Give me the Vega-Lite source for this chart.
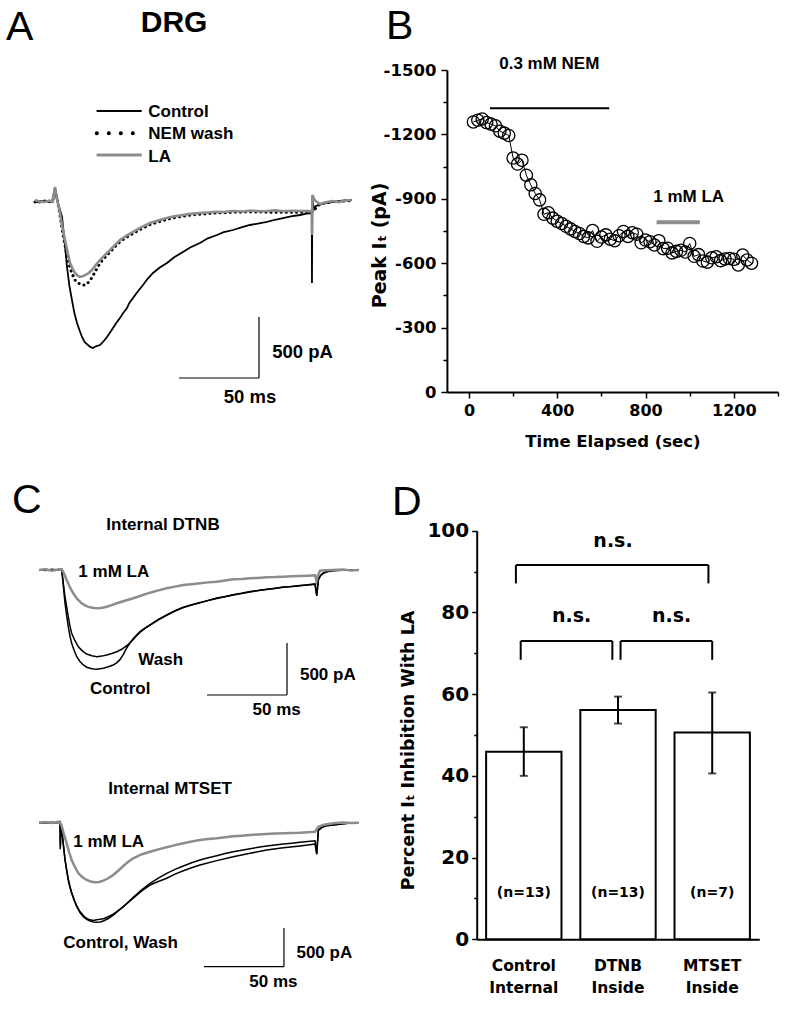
{
  "$schema": "https://vega.github.io/schema/vega-lite/v6.json",
  "width": 786,
  "height": 1016,
  "padding": 0,
  "autosize": {"type": "none"},
  "background": "white",
  "config": {
    "font": "Liberation Sans",
    "view": {"stroke": null},
    "axis": {"grid": false, "domainColor": "black", "tickColor": "black", "labelColor": "black", "titleColor": "black", "labelOverlap": false}
  },
  "datasets": {
    "trA": [
      {"s":"Control","t":0,"I":0},{"s":"Control","t":3,"I":-8},{"s":"Control","t":6,"I":10},{"s":"Control","t":9,"I":-5},{"s":"Control","t":11,"I":4},{"s":"Control","t":12.5,"I":120},{"s":"Control","t":13.5,"I":30},{"s":"Control","t":15,"I":-40},{"s":"Control","t":16.9,"I":-125},{"s":"Control","t":18.5,"I":-330},{"s":"Control","t":20,"I":-535},{"s":"Control","t":21.5,"I":-690},{"s":"Control","t":23.1,"I":-806},{"s":"Control","t":24.5,"I":-905},{"s":"Control","t":26.25,"I":-994},{"s":"Control","t":28,"I":-1060},{"s":"Control","t":29.4,"I":-1109},{"s":"Control","t":31,"I":-1150},{"s":"Control","t":33.1,"I":-1175},{"s":"Control","t":34.5,"I":-1190},{"s":"Control","t":36.25,"I":-1199},{"s":"Control","t":38,"I":-1185},{"s":"Control","t":40.6,"I":-1175},{"s":"Control","t":42.5,"I":-1150},{"s":"Control","t":45,"I":-1109},{"s":"Control","t":47,"I":-1070},{"s":"Control","t":48.75,"I":-1035},{"s":"Control","t":51,"I":-990},{"s":"Control","t":53.1,"I":-953},{"s":"Control","t":55,"I":-915},{"s":"Control","t":57.5,"I":-871},{"s":"Control","t":59,"I":-830},{"s":"Control","t":61.25,"I":-789},{"s":"Control","t":64,"I":-740},{"s":"Control","t":67.5,"I":-683},{"s":"Control","t":70.5,"I":-630},{"s":"Control","t":73.75,"I":-584},{"s":"Control","t":78,"I":-540},{"s":"Control","t":82.5,"I":-502},{"s":"Control","t":87,"I":-455},{"s":"Control","t":92.5,"I":-412},{"s":"Control","t":97,"I":-375},{"s":"Control","t":103.1,"I":-339},{"s":"Control","t":108,"I":-300},{"s":"Control","t":113.75,"I":-273},{"s":"Control","t":118,"I":-250},{"s":"Control","t":123.75,"I":-232},{"s":"Control","t":129,"I":-210},{"s":"Control","t":134.4,"I":-191},{"s":"Control","t":140,"I":-178},{"s":"Control","t":145,"I":-166},{"s":"Control","t":150,"I":-148},{"s":"Control","t":155,"I":-134},{"s":"Control","t":160,"I":-120},{"s":"Control","t":165.6,"I":-109},{"s":"Control","t":169,"I":-100},{"s":"Control","t":171.9,"I":-93},{"s":"Control","t":173,"I":-95},{"s":"Control","t":173.1,"I":-667},{"s":"Control","t":173.3,"I":14},{"s":"Control","t":174.5,"I":-60},{"s":"Control","t":175.6,"I":-35},{"s":"Control","t":180,"I":-15},{"s":"Control","t":186.25,"I":-2},{"s":"Control","t":192,"I":8},{"s":"Control","t":198,"I":14},
      {"s":"NEM wash","t":0,"I":-2},{"s":"NEM wash","t":6,"I":5},{"s":"NEM wash","t":11,"I":0},{"s":"NEM wash","t":12.5,"I":96},{"s":"NEM wash","t":14,"I":10},{"s":"NEM wash","t":15.6,"I":-109},{"s":"NEM wash","t":17,"I":-230},{"s":"NEM wash","t":18.75,"I":-355},{"s":"NEM wash","t":20.3,"I":-460},{"s":"NEM wash","t":21.9,"I":-543},{"s":"NEM wash","t":23.5,"I":-600},{"s":"NEM wash","t":25,"I":-642},{"s":"NEM wash","t":26.5,"I":-662},{"s":"NEM wash","t":28.1,"I":-675},{"s":"NEM wash","t":29.7,"I":-682},{"s":"NEM wash","t":31.25,"I":-684},{"s":"NEM wash","t":33.5,"I":-660},{"s":"NEM wash","t":35.6,"I":-622},{"s":"NEM wash","t":38,"I":-565},{"s":"NEM wash","t":40.6,"I":-505},{"s":"NEM wash","t":43.5,"I":-460},{"s":"NEM wash","t":46.9,"I":-412},{"s":"NEM wash","t":50,"I":-368},{"s":"NEM wash","t":53.1,"I":-328},{"s":"NEM wash","t":57,"I":-293},{"s":"NEM wash","t":61.25,"I":-260},{"s":"NEM wash","t":66,"I":-225},{"s":"NEM wash","t":71.9,"I":-188},{"s":"NEM wash","t":77,"I":-167},{"s":"NEM wash","t":82.5,"I":-145},{"s":"NEM wash","t":87,"I":-131},{"s":"NEM wash","t":92.5,"I":-119},{"s":"NEM wash","t":97,"I":-110},{"s":"NEM wash","t":103.1,"I":-103},{"s":"NEM wash","t":113,"I":-93},{"s":"NEM wash","t":123.75,"I":-87},{"s":"NEM wash","t":135,"I":-84},{"s":"NEM wash","t":145,"I":-86},{"s":"NEM wash","t":155,"I":-86},{"s":"NEM wash","t":165.6,"I":-86},{"s":"NEM wash","t":171.9,"I":-86},{"s":"NEM wash","t":173,"I":-86},{"s":"NEM wash","t":175,"I":-60},{"s":"NEM wash","t":178.1,"I":-19},{"s":"NEM wash","t":186,"I":0},{"s":"NEM wash","t":198,"I":8},
      {"s":"LA","t":0,"I":14},{"s":"LA","t":3,"I":0},{"s":"LA","t":6,"I":-2},{"s":"LA","t":9,"I":8},{"s":"LA","t":11,"I":0},{"s":"LA","t":12.5,"I":120},{"s":"LA","t":14,"I":5},{"s":"LA","t":15.6,"I":-93},{"s":"LA","t":17,"I":-200},{"s":"LA","t":18.75,"I":-314},{"s":"LA","t":20.3,"I":-410},{"s":"LA","t":21.9,"I":-502},{"s":"LA","t":23.5,"I":-550},{"s":"LA","t":25,"I":-584},{"s":"LA","t":26.5,"I":-605},{"s":"LA","t":28.1,"I":-617},{"s":"LA","t":29.7,"I":-612},{"s":"LA","t":31.25,"I":-601},{"s":"LA","t":33.5,"I":-585},{"s":"LA","t":35.6,"I":-560},{"s":"LA","t":38,"I":-520},{"s":"LA","t":40.6,"I":-478},{"s":"LA","t":43.5,"I":-440},{"s":"LA","t":46.9,"I":-396},{"s":"LA","t":50,"I":-355},{"s":"LA","t":53.1,"I":-314},{"s":"LA","t":57,"I":-280},{"s":"LA","t":61.25,"I":-248},{"s":"LA","t":66,"I":-212},{"s":"LA","t":71.9,"I":-175},{"s":"LA","t":77,"I":-155},{"s":"LA","t":82.5,"I":-134},{"s":"LA","t":87,"I":-120},{"s":"LA","t":92.5,"I":-109},{"s":"LA","t":97,"I":-100},{"s":"LA","t":103.1,"I":-93},{"s":"LA","t":108,"I":-88},{"s":"LA","t":113,"I":-82},{"s":"LA","t":118,"I":-85},{"s":"LA","t":123.75,"I":-76},{"s":"LA","t":130,"I":-80},{"s":"LA","t":135,"I":-72},{"s":"LA","t":140,"I":-78},{"s":"LA","t":145,"I":-76},{"s":"LA","t":150,"I":-70},{"s":"LA","t":155,"I":-78},{"s":"LA","t":160,"I":-74},{"s":"LA","t":165.6,"I":-76},{"s":"LA","t":171.9,"I":-76},{"s":"LA","t":173,"I":-80},{"s":"LA","t":173.15,"I":-273},{"s":"LA","t":173.35,"I":55},{"s":"LA","t":175,"I":10},{"s":"LA","t":178.1,"I":-19},{"s":"LA","t":182,"I":-5},{"s":"LA","t":186,"I":5},{"s":"LA","t":190,"I":-3},{"s":"LA","t":194,"I":10},{"s":"LA","t":198,"I":14}
    ],
    "trC1": [
      {"s":"LA","t":0,"I":0},{"s":"LA","t":4,"I":8},{"s":"LA","t":8,"I":-6},{"s":"LA","t":12,"I":5},{"s":"LA","t":14.2,"I":7},{"s":"LA","t":15.5,"I":-30},{"s":"LA","t":17.3,"I":-96},{"s":"LA","t":19.3,"I":-165},{"s":"LA","t":21.4,"I":-224},{"s":"LA","t":24,"I":-280},{"s":"LA","t":26.7,"I":-320},{"s":"LA","t":29.3,"I":-345},{"s":"LA","t":31.9,"I":-359},{"s":"LA","t":34.5,"I":-366},{"s":"LA","t":37.1,"I":-368},{"s":"LA","t":39.7,"I":-362},{"s":"LA","t":42.3,"I":-353},{"s":"LA","t":45.5,"I":-338},{"s":"LA","t":48.6,"I":-320},{"s":"LA","t":53.7,"I":-296},{"s":"LA","t":58.9,"I":-272},{"s":"LA","t":64,"I":-245},{"s":"LA","t":69.4,"I":-218},{"s":"LA","t":74.6,"I":-196},{"s":"LA","t":79.8,"I":-176},{"s":"LA","t":85,"I":-160},{"s":"LA","t":90.2,"I":-144},{"s":"LA","t":95.4,"I":-136},{"s":"LA","t":100.6,"I":-128},{"s":"LA","t":105.8,"I":-119},{"s":"LA","t":111.1,"I":-112},{"s":"LA","t":116.3,"I":-100},{"s":"LA","t":121.4,"I":-89},{"s":"LA","t":126.6,"I":-86},{"s":"LA","t":131.9,"I":-80},{"s":"LA","t":137,"I":-76},{"s":"LA","t":142.3,"I":-70},{"s":"LA","t":147.5,"I":-68},{"s":"LA","t":152.7,"I":-64},{"s":"LA","t":158,"I":-60},{"s":"LA","t":163.1,"I":-58},{"s":"LA","t":168,"I":-55},{"s":"LA","t":172.5,"I":-51},{"s":"LA","t":173.4,"I":-106},{"s":"LA","t":174.2,"I":-60},{"s":"LA","t":175.6,"I":-7},{"s":"LA","t":179,"I":-3},{"s":"LA","t":183.75,"I":0},{"s":"LA","t":190,"I":4},{"s":"LA","t":195,"I":-4},{"s":"LA","t":200,"I":0},
      {"s":"Control","t":0,"I":0},{"s":"Control","t":4,"I":6},{"s":"Control","t":8,"I":-5},{"s":"Control","t":12,"I":4},{"s":"Control","t":14.2,"I":5},{"s":"Control","t":15.2,"I":-150},{"s":"Control","t":16.25,"I":-320},{"s":"Control","t":17.3,"I":-440},{"s":"Control","t":18.3,"I":-545},{"s":"Control","t":19.3,"I":-630},{"s":"Control","t":20.4,"I":-705},{"s":"Control","t":22,"I":-775},{"s":"Control","t":23.6,"I":-834},{"s":"Control","t":25.6,"I":-880},{"s":"Control","t":27.7,"I":-913},{"s":"Control","t":29.8,"I":-935},{"s":"Control","t":31.9,"I":-945},{"s":"Control","t":34,"I":-952},{"s":"Control","t":36.1,"I":-955},{"s":"Control","t":38.2,"I":-950},{"s":"Control","t":40.2,"I":-945},{"s":"Control","t":43.3,"I":-930},{"s":"Control","t":46.4,"I":-913},{"s":"Control","t":48.5,"I":-893},{"s":"Control","t":50.6,"I":-862},{"s":"Control","t":52.7,"I":-812},{"s":"Control","t":54.8,"I":-750},{"s":"Control","t":56.9,"I":-700},{"s":"Control","t":58.9,"I":-662},{"s":"Control","t":61,"I":-625},{"s":"Control","t":63.1,"I":-592},{"s":"Control","t":66.2,"I":-558},{"s":"Control","t":69.4,"I":-527},{"s":"Control","t":74.6,"I":-476},{"s":"Control","t":79.8,"I":-431},{"s":"Control","t":85,"I":-392},{"s":"Control","t":90.2,"I":-358},{"s":"Control","t":95.4,"I":-334},{"s":"Control","t":100.6,"I":-312},{"s":"Control","t":105.8,"I":-292},{"s":"Control","t":111.1,"I":-270},{"s":"Control","t":116.3,"I":-255},{"s":"Control","t":121.4,"I":-238},{"s":"Control","t":126.6,"I":-224},{"s":"Control","t":131.9,"I":-207},{"s":"Control","t":137,"I":-197},{"s":"Control","t":142.3,"I":-184},{"s":"Control","t":147.5,"I":-175},{"s":"Control","t":152.7,"I":-164},{"s":"Control","t":158,"I":-158},{"s":"Control","t":163.1,"I":-149},{"s":"Control","t":168,"I":-142},{"s":"Control","t":172.5,"I":-134},{"s":"Control","t":173.6,"I":-250},{"s":"Control","t":174.6,"I":-96},{"s":"Control","t":176,"I":-55},{"s":"Control","t":177.7,"I":-32},{"s":"Control","t":180,"I":-18},{"s":"Control","t":183.9,"I":-7},{"s":"Control","t":190,"I":-3},{"s":"Control","t":195,"I":3},{"s":"Control","t":200,"I":0},
      {"s":"Wash","t":0,"I":2},{"s":"Wash","t":4,"I":-4},{"s":"Wash","t":8,"I":6},{"s":"Wash","t":12,"I":0},{"s":"Wash","t":14.2,"I":5},{"s":"Wash","t":15.2,"I":-130},{"s":"Wash","t":16.25,"I":-257},{"s":"Wash","t":17.3,"I":-355},{"s":"Wash","t":18.3,"I":-449},{"s":"Wash","t":19.3,"I":-535},{"s":"Wash","t":20.4,"I":-609},{"s":"Wash","t":22.5,"I":-680},{"s":"Wash","t":24.6,"I":-738},{"s":"Wash","t":27.2,"I":-780},{"s":"Wash","t":29.8,"I":-808},{"s":"Wash","t":33,"I":-825},{"s":"Wash","t":36.1,"I":-834},{"s":"Wash","t":39.2,"I":-828},{"s":"Wash","t":42.3,"I":-817},{"s":"Wash","t":45.5,"I":-803},{"s":"Wash","t":48.6,"I":-786},{"s":"Wash","t":51.7,"I":-762},{"s":"Wash","t":54.8,"I":-728},{"s":"Wash","t":56.9,"I":-700},{"s":"Wash","t":58.9,"I":-668},{"s":"Wash","t":61,"I":-632},{"s":"Wash","t":63.1,"I":-600},{"s":"Wash","t":66.2,"I":-562},{"s":"Wash","t":69.4,"I":-531},{"s":"Wash","t":74.6,"I":-480},{"s":"Wash","t":79.8,"I":-435},{"s":"Wash","t":85,"I":-394},{"s":"Wash","t":90.2,"I":-360},{"s":"Wash","t":95.4,"I":-336},{"s":"Wash","t":100.6,"I":-316},{"s":"Wash","t":105.8,"I":-294},{"s":"Wash","t":111.1,"I":-274},{"s":"Wash","t":116.3,"I":-257},{"s":"Wash","t":121.4,"I":-241},{"s":"Wash","t":126.6,"I":-226},{"s":"Wash","t":131.9,"I":-211},{"s":"Wash","t":137,"I":-198},{"s":"Wash","t":142.3,"I":-187},{"s":"Wash","t":147.5,"I":-177},{"s":"Wash","t":152.7,"I":-167},{"s":"Wash","t":158,"I":-159},{"s":"Wash","t":163.1,"I":-152},{"s":"Wash","t":168,"I":-144},{"s":"Wash","t":172.5,"I":-137},{"s":"Wash","t":173.6,"I":-245},{"s":"Wash","t":174.6,"I":-90},{"s":"Wash","t":176,"I":-50},{"s":"Wash","t":177.7,"I":-28},{"s":"Wash","t":180,"I":-15},{"s":"Wash","t":183.9,"I":-5},{"s":"Wash","t":190,"I":2},{"s":"Wash","t":195,"I":-2},{"s":"Wash","t":200,"I":2}
    ],
    "trC2": [
      {"s":"LA","t":0,"I":0},{"s":"LA","t":4,"I":8},{"s":"LA","t":8,"I":-5},{"s":"LA","t":12.7,"I":13},{"s":"LA","t":14,"I":-30},{"s":"LA","t":15.5,"I":-140},{"s":"LA","t":17.3,"I":-266},{"s":"LA","t":18.8,"I":-380},{"s":"LA","t":20.4,"I":-481},{"s":"LA","t":22.5,"I":-575},{"s":"LA","t":24.6,"I":-654},{"s":"LA","t":27.2,"I":-705},{"s":"LA","t":29.8,"I":-740},{"s":"LA","t":32.3,"I":-760},{"s":"LA","t":34.8,"I":-770},{"s":"LA","t":37.5,"I":-765},{"s":"LA","t":40.2,"I":-749},{"s":"LA","t":43.3,"I":-718},{"s":"LA","t":46.4,"I":-676},{"s":"LA","t":49.5,"I":-620},{"s":"LA","t":52.7,"I":-559},{"s":"LA","t":55.8,"I":-505},{"s":"LA","t":58.9,"I":-460},{"s":"LA","t":64,"I":-410},{"s":"LA","t":69.4,"I":-375},{"s":"LA","t":74.6,"I":-345},{"s":"LA","t":79.8,"I":-318},{"s":"LA","t":85,"I":-290},{"s":"LA","t":90.2,"I":-266},{"s":"LA","t":95.4,"I":-243},{"s":"LA","t":100.6,"I":-224},{"s":"LA","t":105.8,"I":-212},{"s":"LA","t":111.1,"I":-202},{"s":"LA","t":116.3,"I":-188},{"s":"LA","t":121.4,"I":-176},{"s":"LA","t":126.6,"I":-167},{"s":"LA","t":131.9,"I":-159},{"s":"LA","t":137,"I":-152},{"s":"LA","t":142.3,"I":-146},{"s":"LA","t":147.5,"I":-141},{"s":"LA","t":152.7,"I":-137},{"s":"LA","t":158,"I":-133},{"s":"LA","t":163.1,"I":-129},{"s":"LA","t":168,"I":-122},{"s":"LA","t":172.5,"I":-116},{"s":"LA","t":174.6,"I":-52},{"s":"LA","t":178,"I":-25},{"s":"LA","t":183.9,"I":-8},{"s":"LA","t":190,"I":3},{"s":"LA","t":195,"I":-4},{"s":"LA","t":200,"I":0},
      {"s":"Control","t":0,"I":0},{"s":"Control","t":4,"I":6},{"s":"Control","t":8,"I":-6},{"s":"Control","t":12,"I":5},{"s":"Control","t":13.1,"I":13},{"s":"Control","t":13.3,"I":-344},{"s":"Control","t":13.6,"I":-60},{"s":"Control","t":14.5,"I":-150},{"s":"Control","t":16.25,"I":-482},{"s":"Control","t":17.3,"I":-620},{"s":"Control","t":18.3,"I":-740},{"s":"Control","t":19.3,"I":-830},{"s":"Control","t":20.4,"I":-912},{"s":"Control","t":22,"I":-1005},{"s":"Control","t":23.6,"I":-1085},{"s":"Control","t":25.6,"I":-1160},{"s":"Control","t":27.7,"I":-1214},{"s":"Control","t":29.8,"I":-1250},{"s":"Control","t":31.9,"I":-1270},{"s":"Control","t":34,"I":-1282},{"s":"Control","t":36.1,"I":-1287},{"s":"Control","t":38.2,"I":-1282},{"s":"Control","t":40.2,"I":-1270},{"s":"Control","t":43.3,"I":-1238},{"s":"Control","t":46.4,"I":-1193},{"s":"Control","t":49.5,"I":-1140},{"s":"Control","t":52.7,"I":-1085},{"s":"Control","t":55.8,"I":-1025},{"s":"Control","t":58.9,"I":-964},{"s":"Control","t":64,"I":-870},{"s":"Control","t":69.4,"I":-783},{"s":"Control","t":74.6,"I":-715},{"s":"Control","t":79.8,"I":-654},{"s":"Control","t":85,"I":-603},{"s":"Control","t":90.2,"I":-559},{"s":"Control","t":95.4,"I":-518},{"s":"Control","t":100.6,"I":-482},{"s":"Control","t":105.8,"I":-452},{"s":"Control","t":111.1,"I":-426},{"s":"Control","t":116.3,"I":-399},{"s":"Control","t":121.4,"I":-375},{"s":"Control","t":126.6,"I":-355},{"s":"Control","t":131.9,"I":-336},{"s":"Control","t":137,"I":-318},{"s":"Control","t":142.3,"I":-301},{"s":"Control","t":147.5,"I":-288},{"s":"Control","t":152.7,"I":-275},{"s":"Control","t":158,"I":-264},{"s":"Control","t":163.1,"I":-253},{"s":"Control","t":168,"I":-242},{"s":"Control","t":172.5,"I":-233},{"s":"Control","t":173.6,"I":-395},{"s":"Control","t":174.6,"I":-94},{"s":"Control","t":177,"I":-55},{"s":"Control","t":180,"I":-35},{"s":"Control","t":183.9,"I":-30},{"s":"Control","t":190,"I":-12},{"s":"Control","t":195,"I":-5},{"s":"Control","t":200,"I":0},
      {"s":"Wash","t":0,"I":2},{"s":"Wash","t":4,"I":-5},{"s":"Wash","t":8,"I":6},{"s":"Wash","t":12,"I":0},{"s":"Wash","t":13.1,"I":10},{"s":"Wash","t":13.4,"I":-300},{"s":"Wash","t":13.7,"I":-50},{"s":"Wash","t":14.5,"I":-140},{"s":"Wash","t":16.25,"I":-470},{"s":"Wash","t":17.3,"I":-610},{"s":"Wash","t":18.3,"I":-728},{"s":"Wash","t":19.3,"I":-820},{"s":"Wash","t":20.4,"I":-900},{"s":"Wash","t":22,"I":-995},{"s":"Wash","t":23.6,"I":-1075},{"s":"Wash","t":25.6,"I":-1148},{"s":"Wash","t":27.7,"I":-1200},{"s":"Wash","t":29.8,"I":-1238},{"s":"Wash","t":31.9,"I":-1255},{"s":"Wash","t":34,"I":-1262},{"s":"Wash","t":36.1,"I":-1253},{"s":"Wash","t":38.2,"I":-1248},{"s":"Wash","t":40.2,"I":-1240},{"s":"Wash","t":43.3,"I":-1215},{"s":"Wash","t":46.4,"I":-1180},{"s":"Wash","t":49.5,"I":-1135},{"s":"Wash","t":52.7,"I":-1085},{"s":"Wash","t":55.8,"I":-1030},{"s":"Wash","t":58.9,"I":-975},{"s":"Wash","t":64,"I":-885},{"s":"Wash","t":69.4,"I":-805},{"s":"Wash","t":74.6,"I":-760},{"s":"Wash","t":79.8,"I":-718},{"s":"Wash","t":85,"I":-665},{"s":"Wash","t":90.2,"I":-620},{"s":"Wash","t":95.4,"I":-582},{"s":"Wash","t":100.6,"I":-547},{"s":"Wash","t":111.1,"I":-490},{"s":"Wash","t":121.4,"I":-439},{"s":"Wash","t":131.9,"I":-395},{"s":"Wash","t":142.3,"I":-353},{"s":"Wash","t":152.7,"I":-325},{"s":"Wash","t":163.1,"I":-301},{"s":"Wash","t":168,"I":-288},{"s":"Wash","t":172.5,"I":-275},{"s":"Wash","t":173.6,"I":-410},{"s":"Wash","t":174.6,"I":-100},{"s":"Wash","t":177,"I":-60},{"s":"Wash","t":180,"I":-38},{"s":"Wash","t":183.9,"I":-30},{"s":"Wash","t":190,"I":-12},{"s":"Wash","t":195,"I":-4},{"s":"Wash","t":200,"I":0}
    ],
    "ptB": [
      {"t":20,"v":-1258},{"t":40,"v":-1266},{"t":60,"v":-1272},{"t":80,"v":-1255},{"t":100,"v":-1248},{"t":120,"v":-1240},{"t":140,"v":-1215},{"t":160,"v":-1206},{"t":180,"v":-1195},{"t":200,"v":-1090},{"t":220,"v":-1062},{"t":240,"v":-1080},{"t":260,"v":-1010},{"t":280,"v":-965},{"t":300,"v":-925},{"t":320,"v":-895},{"t":340,"v":-828},{"t":360,"v":-835},{"t":380,"v":-810},{"t":400,"v":-795},{"t":420,"v":-785},{"t":440,"v":-772},{"t":460,"v":-760},{"t":480,"v":-748},{"t":500,"v":-738},{"t":520,"v":-725},{"t":540,"v":-718},{"t":560,"v":-752},{"t":580,"v":-702},{"t":600,"v":-722},{"t":620,"v":-732},{"t":640,"v":-712},{"t":660,"v":-705},{"t":680,"v":-728},{"t":700,"v":-748},{"t":720,"v":-725},{"t":740,"v":-742},{"t":760,"v":-735},{"t":780,"v":-695},{"t":800,"v":-708},{"t":820,"v":-700},{"t":840,"v":-685},{"t":860,"v":-705},{"t":880,"v":-668},{"t":900,"v":-670},{"t":920,"v":-648},{"t":940,"v":-655},{"t":960,"v":-660},{"t":980,"v":-652},{"t":1000,"v":-692},{"t":1020,"v":-632},{"t":1040,"v":-640},{"t":1060,"v":-610},{"t":1080,"v":-605},{"t":1100,"v":-625},{"t":1120,"v":-630},{"t":1140,"v":-612},{"t":1160,"v":-620},{"t":1180,"v":-622},{"t":1200,"v":-618},{"t":1220,"v":-592},{"t":1240,"v":-638},{"t":1260,"v":-615},{"t":1280,"v":-600}
    ],
    "barD": [
      {"g":"Control|Internal","m":45.9,"lo":40.0,"hi":51.9,"n":"(n=13)"},
      {"g":"DTNB|Inside","m":56.1,"lo":52.8,"hi":59.4,"n":"(n=13)"},
      {"g":"MTSET|Inside","m":50.6,"lo":40.6,"hi":60.4,"n":"(n=7)"}
    ]
  },
  "resolve": {"scale": {"x": "independent", "y": "independent"}, "axis": {"x": "independent", "y": "independent"}},
  "layer": [
    {
      "encoding": {
        "x": {"field": "t", "type": "quantitative", "scale": {"domain": [-20, 220], "range": [3, 387], "nice": false, "zero": false}, "axis": null},
        "y": {"field": "I", "type": "quantitative", "scale": {"domain": [-1700, 1500], "range": [409.1, 18.7], "nice": false, "zero": false}, "axis": null}
      },
      "layer": [
        {"data": {"name": "trA"}, "transform": [{"filter": "datum.s === 'Control'"}], "mark": {"type": "line", "color": "black", "strokeWidth": 1.8}},
        {"data": {"name": "trA"}, "transform": [{"filter": "datum.s === 'NEM wash'"}], "mark": {"type": "line", "color": "black", "strokeWidth": 3, "strokeDash": [0.1, 5], "strokeCap": "round"}},
        {"data": {"name": "trA"}, "transform": [{"filter": "datum.s === 'LA'"}], "mark": {"type": "line", "color": "#8c8c8c", "strokeWidth": 2.6}},
        {"data": {"values": [{"t": 140, "I": -1445, "t2": 140, "I2": -945}, {"t": 90, "I": -1445, "t2": 140, "I2": -1445}]}, "mark": {"type": "rule", "color": "black", "strokeWidth": 1.2}, "encoding": {"x2": {"field": "t2"}, "y2": {"field": "I2"}}},
        {"data": {"values": [{"t": 38.5, "I": 743, "t2": 66.7, "I2": 743}]}, "mark": {"type": "rule", "color": "black", "strokeWidth": 2}, "encoding": {"x2": {"field": "t2"}, "y2": {"field": "I2"}}},
        {"data": {"values": [{"t": 38.6, "I": 561, "t2": 61.4, "I2": 561}]}, "mark": {"type": "rule", "color": "black", "strokeWidth": 4, "strokeDash": [0.1, 11.9], "strokeCap": "round"}, "encoding": {"x2": {"field": "t2"}, "y2": {"field": "I2"}}},
        {"data": {"values": [{"t": 38.5, "I": 383, "t2": 66.7, "I2": 383}]}, "mark": {"type": "rule", "color": "#8c8c8c", "strokeWidth": 3}, "encoding": {"x2": {"field": "t2"}, "y2": {"field": "I2"}}},
        {"data": {"values": [{"t": 70.8, "I": 697, "txt": "Control"}, {"t": 70.8, "I": 511, "txt": "NEM wash"}, {"t": 70.8, "I": 328, "txt": "LA"}]}, "mark": {"type": "text", "fontWeight": "bold", "fontSize": 17, "align": "left", "baseline": "alphabetic"}, "encoding": {"text": {"field": "txt"}}},
        {"data": {"values": [{"t": 148.3, "I": -1284, "txt": "500 pA"}]}, "mark": {"type": "text", "fontWeight": "bold", "fontSize": 18.5, "align": "left", "baseline": "alphabetic"}, "encoding": {"text": {"field": "txt"}}},
        {"data": {"values": [{"t": 134.4, "I": -1652, "txt": "50 ms"}]}, "mark": {"type": "text", "fontWeight": "bold", "fontSize": 18.5, "align": "center", "baseline": "alphabetic"}, "encoding": {"text": {"field": "txt"}}},
        {"data": {"values": [{"t": 86.9, "I": 1391, "txt": "DRG"}]}, "mark": {"type": "text", "fontWeight": "bold", "fontSize": 30, "align": "center", "baseline": "alphabetic"}, "encoding": {"text": {"field": "txt"}}},
        {"data": {"values": [{"t": -18.1, "I": 1325, "txt": "A"}]}, "mark": {"type": "text", "fontSize": 41, "align": "left", "baseline": "alphabetic"}, "encoding": {"text": {"field": "txt"}}}
      ]
    },
    {
      "encoding": {
        "x": {"field": "t", "type": "quantitative", "scale": {"domain": [-100, 1400], "range": [446.9, 778], "nice": false, "zero": false},
          "axis": {"orient": "bottom", "offset": -624, "values": [0, 200, 400, 600, 800, 1000, 1200, 1400], "labelExpr": "datum.value % 400 === 0 ? '' + datum.value : ''", "tickSize": {"condition": {"test": "datum.value % 400 === 0", "value": 6}, "value": 4}, "tickWidth": 1.5, "domainWidth": 2, "labelFont": "DejaVu Sans", "labelFontWeight": "bold", "labelFontSize": 16, "labelPadding": 4, "title": "Time Elapsed (sec)", "titleFont": "DejaVu Sans", "titleFontWeight": "bold", "titleFontSize": 16.5, "titlePadding": 15}},
        "y": {"field": "v", "type": "quantitative", "scale": {"domain": [-1500, 0], "range": [70, 392], "nice": false, "zero": false},
          "axis": {"orient": "left", "offset": -446.9, "values": [-1500, -1350, -1200, -1050, -900, -750, -600, -450, -300, -150, 0], "labelExpr": "datum.value % 300 === 0 ? '' + datum.value : ''", "tickSize": {"condition": {"test": "datum.value % 300 === 0", "value": 6}, "value": 4}, "tickWidth": 1.5, "domainWidth": 2, "labelFont": "DejaVu Sans", "labelFontWeight": "bold", "labelFontSize": 16.5, "labelPadding": 5, "title": "Peak I\u209c (pA)", "titleFont": "DejaVu Sans", "titleFontWeight": "bold", "titleFontSize": 19, "titleX": -57, "titleY": 245}}
      },
      "layer": [
        {"data": {"name": "ptB"}, "mark": {"type": "line", "color": "black", "strokeWidth": 1}},
        {"data": {"name": "ptB"}, "mark": {"type": "point", "shape": "circle", "filled": false, "color": "black", "strokeWidth": 1.3, "size": 150, "opacity": 1}},
        {"data": {"values": [{"t": 95, "v": -1321.5, "t2": 635.5}]}, "mark": {"type": "rule", "color": "black", "strokeWidth": 2}, "encoding": {"x2": {"field": "t2"}}},
        {"data": {"values": [{"t": 850, "v": -790.5, "t2": 1046}]}, "mark": {"type": "rule", "color": "#8c8c8c", "strokeWidth": 4}, "encoding": {"x2": {"field": "t2"}}},
        {"data": {"values": [{"t": 137, "v": -1504.5, "txt": "0.3 mM NEM"}, {"t": 834.9, "v": -883.6, "txt": "1 mM LA"}]}, "mark": {"type": "text", "fontWeight": "bold", "fontSize": 17, "align": "left", "baseline": "alphabetic"}, "encoding": {"text": {"field": "txt"}}},
        {"data": {"values": [{"t": -376, "v": -1644, "txt": "B"}]}, "mark": {"type": "text", "fontSize": 41, "align": "left", "baseline": "alphabetic"}, "encoding": {"text": {"field": "txt"}}}
      ]
    },
    {
      "encoding": {
        "x": {"field": "t", "type": "quantitative", "scale": {"domain": [-20, 220], "range": [7, 391], "nice": false, "zero": false}, "axis": null},
        "y": {"field": "I", "type": "quantitative", "scale": {"domain": [-1600, 600], "range": [736.4, 507.6], "nice": false, "zero": false}, "axis": null}
      },
      "layer": [
        {"data": {"name": "trC1"}, "transform": [{"filter": "datum.s === 'Control'"}], "mark": {"type": "line", "color": "black", "strokeWidth": 1.5}},
        {"data": {"name": "trC1"}, "transform": [{"filter": "datum.s === 'Wash'"}], "mark": {"type": "line", "color": "black", "strokeWidth": 1.5}},
        {"data": {"name": "trC1"}, "transform": [{"filter": "datum.s === 'LA'"}], "mark": {"type": "line", "color": "#8c8c8c", "strokeWidth": 2.5}},
        {"data": {"values": [{"t": 155, "I": -702, "t2": 155, "I2": -1202}, {"t": 105, "I": -1202, "t2": 155, "I2": -1202}]}, "mark": {"type": "rule", "color": "black", "strokeWidth": 1.2}, "encoding": {"x2": {"field": "t2"}, "y2": {"field": "I2"}}},
        {"data": {"values": [{"t": 24.6, "I": -64, "txt": "1 mM LA"}, {"t": 62.1, "I": -913, "txt": "Wash"}, {"t": 31.9, "I": -1192, "txt": "Control"}, {"t": 163.1, "I": -1058, "txt": "500 pA"}]}, "mark": {"type": "text", "fontWeight": "bold", "fontSize": 17, "align": "left", "baseline": "alphabetic"}, "encoding": {"text": {"field": "txt"}}},
        {"data": {"values": [{"t": 148.5, "I": -1394, "txt": "50 ms"}, {"t": 77.5, "I": 385, "txt": "Internal DTNB"}]}, "mark": {"type": "text", "fontWeight": "bold", "fontSize": 17, "align": "center", "baseline": "alphabetic"}, "encoding": {"text": {"field": "txt"}}},
        {"data": {"values": [{"t": -16.9, "I": 548, "txt": "C"}]}, "mark": {"type": "text", "fontSize": 41, "align": "left", "baseline": "alphabetic"}, "encoding": {"text": {"field": "txt"}}}
      ]
    },
    {
      "encoding": {
        "x": {"field": "t", "type": "quantitative", "scale": {"domain": [-20, 220], "range": [7, 391], "nice": false, "zero": false}, "axis": null},
        "y": {"field": "I", "type": "quantitative", "scale": {"domain": [-2200, 500], "range": [993, 784], "nice": false, "zero": false}, "axis": null}
      },
      "layer": [
        {"data": {"name": "trC2"}, "transform": [{"filter": "datum.s === 'Control'"}], "mark": {"type": "line", "color": "black", "strokeWidth": 1.5}},
        {"data": {"name": "trC2"}, "transform": [{"filter": "datum.s === 'Wash'"}], "mark": {"type": "line", "color": "black", "strokeWidth": 1.5}},
        {"data": {"name": "trC2"}, "transform": [{"filter": "datum.s === 'LA'"}], "mark": {"type": "line", "color": "#8c8c8c", "strokeWidth": 2.5}},
        {"data": {"values": [{"t": 153.1, "I": -1360, "t2": 153.1, "I2": -1860}, {"t": 103.1, "I": -1860, "t2": 153.1, "I2": -1860}]}, "mark": {"type": "rule", "color": "black", "strokeWidth": 1.2}, "encoding": {"x2": {"field": "t2"}, "y2": {"field": "I2"}}},
        {"data": {"values": [{"t": 21.4, "I": -318, "txt": "1 mM LA"}, {"t": 15.2, "I": -1623, "txt": "Control, Wash"}, {"t": 160.9, "I": -1752, "txt": "500 pA"}]}, "mark": {"type": "text", "fontWeight": "bold", "fontSize": 17, "align": "left", "baseline": "alphabetic"}, "encoding": {"text": {"field": "txt"}}},
        {"data": {"values": [{"t": 146.5, "I": -2121, "txt": "50 ms"}, {"t": 81.9, "I": 367, "txt": "Internal MTSET"}]}, "mark": {"type": "text", "fontWeight": "bold", "fontSize": 17, "align": "center", "baseline": "alphabetic"}, "encoding": {"text": {"field": "txt"}}}
      ]
    },
    {
      "data": {"name": "barD"},
      "mark": {"type": "bar", "fill": "white", "stroke": "black", "strokeWidth": 2},
      "encoding": {
        "x": {"field": "g", "type": "nominal", "sort": null, "scale": {"domain": ["Control|Internal", "DTNB|Inside", "MTSET|Inside"], "range": [476.7, 759.3], "paddingInner": 0.2, "paddingOuter": 0.1},
          "axis": {"orient": "bottom", "offset": -76.7, "ticks": false, "labelAngle": 0, "labelExpr": "split(datum.label, '|')", "labelFont": "DejaVu Sans", "labelFontWeight": "bold", "labelFontSize": 15.5, "labelLineHeight": 22, "labelPadding": 19, "domainWidth": 2, "title": null}},
        "y": {"field": "m", "type": "quantitative", "scale": {"domain": [0, 100], "range": [939.3, 530.7], "nice": false, "zero": false},
          "axis": {"orient": "left", "offset": -476.7, "values": [0, 10, 20, 30, 40, 50, 60, 70, 80, 90, 100], "labelExpr": "datum.value % 20 === 0 ? '' + datum.value : ''", "tickSize": {"condition": {"test": "datum.value % 20 === 0", "value": 5}, "value": 3}, "tickWidth": 1.5, "domainWidth": 2, "labelFont": "DejaVu Sans", "labelFontWeight": "bold", "labelFontSize": 20, "labelPadding": 3, "title": "Percent I\u209c Inhibition With  LA", "titleFont": "DejaVu Sans", "titleFontWeight": "bold", "titleFontSize": 17.5, "titlePadding": 9, "titleY": 750}}
      }
    },
    {
      "data": {"name": "barD"},
      "encoding": {
        "x": {"field": "g", "type": "nominal", "sort": null, "scale": {"domain": ["Control|Internal", "DTNB|Inside", "MTSET|Inside"], "range": [476.7, 759.3], "paddingInner": 0.2, "paddingOuter": 0.1}, "axis": null}
      },
      "layer": [
        {"mark": {"type": "rule", "color": "black", "strokeWidth": 2}, "encoding": {"y": {"field": "lo", "type": "quantitative", "scale": {"domain": [0, 100], "range": [939.3, 530.7], "nice": false, "zero": false}, "axis": null}, "y2": {"field": "hi"}}},
        {"mark": {"type": "tick", "color": "black", "thickness": 2, "size": 8}, "encoding": {"y": {"field": "lo", "type": "quantitative", "axis": null}}},
        {"mark": {"type": "tick", "color": "black", "thickness": 2, "size": 8}, "encoding": {"y": {"field": "hi", "type": "quantitative", "axis": null}}},
        {"mark": {"type": "text", "font": "DejaVu Sans", "fontWeight": "bold", "fontSize": 14, "baseline": "alphabetic"}, "encoding": {"y": {"datum": 10.3, "type": "quantitative", "axis": null}, "text": {"field": "n"}}}
      ]
    },
    {
      "encoding": {
        "x": {"field": "x", "type": "quantitative", "scale": {"domain": [0, 3], "range": [476.7, 759.3], "nice": false, "zero": false}, "axis": null},
        "y": {"field": "y", "type": "quantitative", "scale": {"domain": [0, 100], "range": [939.3, 530.7], "nice": false, "zero": false}, "axis": null}
      },
      "layer": [
        {"data": {"values": [
          {"x": 0.416, "y": 87.1, "x2": 0.416, "y2": 91.6}, {"x": 0.416, "y": 91.6, "x2": 2.46, "y2": 91.6}, {"x": 2.46, "y": 91.6, "x2": 2.46, "y2": 87.1},
          {"x": 0.467, "y": 68.4, "x2": 0.467, "y2": 73}, {"x": 0.467, "y": 73, "x2": 1.44, "y2": 73}, {"x": 1.44, "y": 73, "x2": 1.44, "y2": 68.4},
          {"x": 1.527, "y": 68.4, "x2": 1.527, "y2": 73}, {"x": 1.527, "y": 73, "x2": 2.5, "y2": 73}, {"x": 2.5, "y": 73, "x2": 2.5, "y2": 68.4}
        ]}, "mark": {"type": "rule", "color": "black", "strokeWidth": 2}, "encoding": {"x2": {"field": "x2"}, "y2": {"field": "y2"}}},
        {"data": {"values": [{"x": 1.447, "y": 96.1, "txt": "n.s."}, {"x": 1.008, "y": 77.7, "txt": "n.s."}, {"x": 2.07, "y": 77.7, "txt": "n.s."}]}, "mark": {"type": "text", "font": "DejaVu Sans", "fontWeight": "bold", "fontSize": 19, "align": "center", "baseline": "alphabetic"}, "encoding": {"text": {"field": "txt"}}},
        {"data": {"values": [{"x": -0.9, "y": 103.8, "txt": "D"}]}, "mark": {"type": "text", "fontSize": 41, "align": "left", "baseline": "alphabetic"}, "encoding": {"text": {"field": "txt"}}}
      ]
    }
  ]
}
